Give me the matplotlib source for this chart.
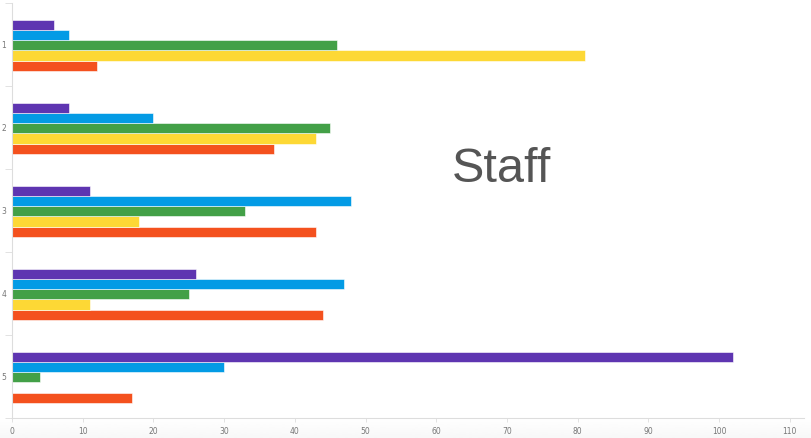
import matplotlib.pyplot as plt
import numpy as np

# datos
groups = ["1", "2", "3", "4", "5"]
orange = [12, 37, 43, 44, 17]
yellow = [81, 43, 18, 11, 0]
green = [46, 45, 33, 25, 4]
blue = [8, 20, 48, 47, 30]
purple = [6, 8, 11, 26, 102]

series = [orange, yellow, green, blue, purple]
colors = ["#F4511E", "#FDD835", "#43A047", "#039BE5", "#5E35B1"]

fig = plt.figure(figsize=(8.12, 4.38), dpi=100)
fig.patch.set_facecolor("white")

# sombra gris al fondo de la figura
bg = fig.add_axes([0, 0, 1, 20 / 438])
bg.imshow(np.linspace(0.97, 1.0, 50).reshape(-1, 1)[::-1], cmap="gray", vmin=0, vmax=1,
          aspect="auto", extent=[0, 1, 0, 1])
bg.axis("off")

ax = fig.add_axes([12 / 812, 20 / 438, (804 - 12) / 812, (418 - 3) / 438])

y = np.arange(len(groups))
h = 0.123
for k, (vals, c) in enumerate(zip(series, colors)):
    ax.barh(y + (2 - k) * h + 0.01, vals, height=h, color=c, edgecolor="white", linewidth=0.4)

ax.set_xlim(0, 112)
ax.set_ylim(4.5, -0.5)
ax.set_xticks(np.arange(0, 111, 10))
ax.set_yticks(np.arange(-0.5, 5, 1))
ax.set_yticklabels([])
ax.set_yticks(y, minor=True)
ax.set_yticklabels(groups, minor=True)

ax.tick_params(axis="x", labelsize=5.5, colors="#dddddd", labelcolor="#777777", length=3, width=0.6)
ax.tick_params(axis="y", which="major", length=5, colors="#dddddd", width=0.6)
ax.tick_params(axis="y", which="minor", length=0, labelsize=5.5, labelcolor="#777777", pad=4)

for s in ["top", "right"]:
    ax.spines[s].set_visible(False)
for s in ["left", "bottom"]:
    ax.spines[s].set_color("#dddddd")
    ax.spines[s].set_linewidth(0.8)

fig.text(502 / 812, 1 - 169 / 438, "Staff", fontsize=35, color="#555555",
         family="Liberation Sans", ha="center", va="center")

plt.savefig("out.png", dpi=100)
